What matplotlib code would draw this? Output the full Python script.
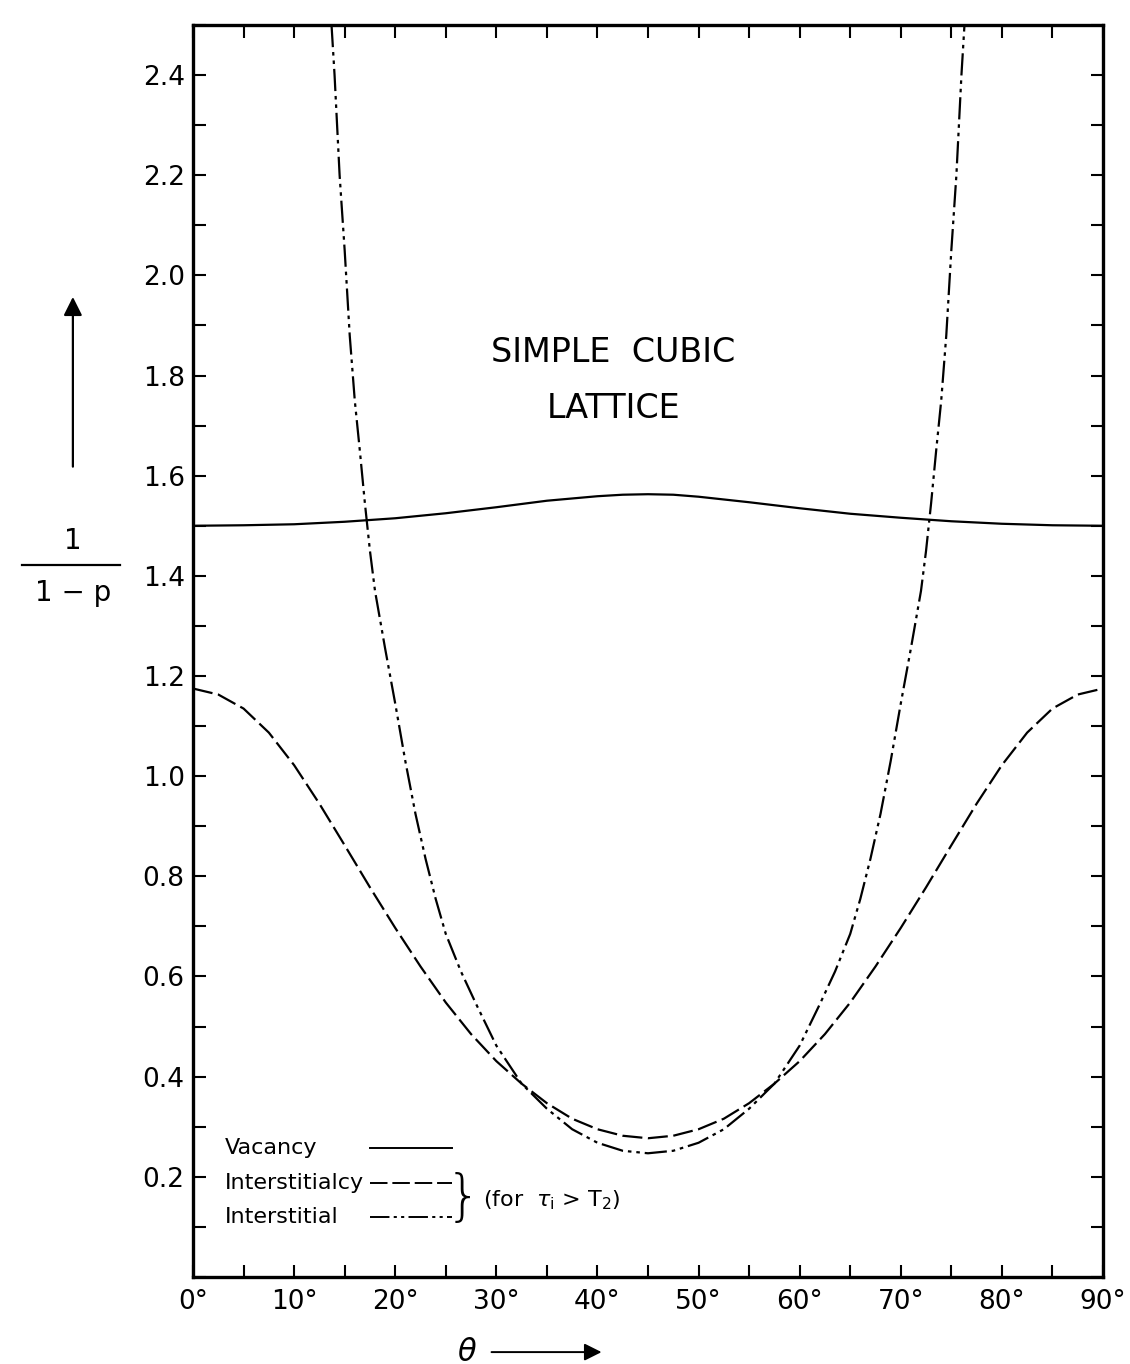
import numpy as np
import matplotlib
matplotlib.use("Agg")
import matplotlib.pyplot as plt
from matplotlib.ticker import MultipleLocator, FixedLocator

# ---------------------------------------------------------------------------
# Data (theta in degrees, value = 1/(1-p))
# ---------------------------------------------------------------------------
vac_theta = [0, 5, 10, 15, 20, 25, 30, 35, 40, 42.5, 45, 47.5, 50, 55, 60, 65, 70,
             75, 80, 85, 90]
vac_value = [1.500, 1.501, 1.503, 1.508, 1.515, 1.525, 1.537, 1.550, 1.559, 1.562,
             1.563, 1.562, 1.558, 1.547, 1.535, 1.524, 1.516, 1.509, 1.504, 1.501,
             1.500]

icy_theta = [0, 2.5, 5, 7.5, 10, 12.5, 15, 17.5, 20, 22.5, 25, 27.5, 30, 32.5, 35,
             37.5, 40, 42.5, 45, 47.5, 50, 52.5, 55, 57.5, 60, 62.5, 65, 67.5, 70,
             72.5, 75, 77.5, 80, 82.5, 85, 87.5, 90]
icy_value = [1.175, 1.163, 1.135, 1.087, 1.022, 0.945, 0.862, 0.778, 0.697, 0.62,
             0.548, 0.485, 0.431, 0.386, 0.347, 0.316, 0.295, 0.282, 0.277, 0.282,
             0.295, 0.316, 0.347, 0.386, 0.431, 0.485, 0.548, 0.62, 0.697, 0.778,
             0.862, 0.945, 1.022, 1.087, 1.135, 1.163, 1.175]

int_theta = [13.7, 14, 14.5, 15, 15.5, 16, 16.5, 17, 17.5, 18, 19, 20, 21, 22,
             23, 24, 25, 26.5, 28, 30, 32.5, 35, 37.5, 40, 42.5, 45, 47.5, 50,
             52.5, 55, 57.5, 60, 62, 63.5, 65, 66, 67, 68, 69, 70, 71, 72, 72.5,
             73, 73.5, 74, 74.5, 75, 75.5, 76, 76.3]
int_value = [2.50, 2.40, 2.20, 2.05, 1.88, 1.75, 1.65, 1.545, 1.45, 1.37, 1.255,
             1.145, 1.03, 0.925, 0.835, 0.755, 0.685, 0.61, 0.545, 0.462, 0.386,
             0.336, 0.295, 0.268, 0.252, 0.247, 0.252, 0.268, 0.295, 0.336, 0.386,
             0.462, 0.545, 0.61, 0.685, 0.755, 0.835, 0.925, 1.03, 1.145, 1.255,
             1.37, 1.45, 1.545, 1.65, 1.75, 1.88, 2.05, 2.20, 2.40, 2.50]

x_major = [0, 10, 20, 30, 40, 50, 60, 70, 80, 90]
x_ticklabels = ["0°", "10°", "20°", "30°", "40°", "50°", "60°", "70°", "80°", "90°"]
y_major = [0.2, 0.4, 0.6, 0.8, 1.0, 1.2, 1.4, 1.6, 1.8, 2.0, 2.2, 2.4]

LW = 1.6
ICY_DASH = (9, 2.5)
INT_DASH = (10, 2.2, 1.6, 2.2, 1.6, 2.2)

plt.rcParams["font.family"] = ["DejaVu Sans"]

fig = plt.figure(figsize=(11.3, 13.64), dpi=100)
ax = fig.add_axes([0.1708, 0.0638, 0.8053, 0.9179])

ax.plot(vac_theta, vac_value, color="black", lw=LW, solid_joinstyle="round")
ax.plot(icy_theta, icy_value, color="black", lw=LW, dashes=ICY_DASH,
        dash_joinstyle="round")
ax.plot(int_theta, int_value, color="black", lw=LW, dashes=INT_DASH,
        dash_joinstyle="round")

ax.set_xlim(0, 90)
ax.set_ylim(0, 2.5)

ax.xaxis.set_major_locator(FixedLocator(x_major))
ax.xaxis.set_minor_locator(MultipleLocator(5))
ax.set_xticklabels(x_ticklabels)
ax.yaxis.set_major_locator(FixedLocator(y_major))
ax.yaxis.set_minor_locator(MultipleLocator(0.1))
ax.set_yticklabels([f"{v:.1f}" for v in y_major])

for s in ax.spines.values():
    s.set_linewidth(2.4)
ax.tick_params(which="both", direction="in", top=True, right=True,
               length=9, width=1.5, labelsize=19)
ax.tick_params(axis="x", pad=9)
ax.tick_params(axis="y", pad=6)

# title inside the plot
ax.text(41.6, 1.845, "SIMPLE  CUBIC", ha="center", va="center", fontsize=24)
ax.text(41.6, 1.735, "LATTICE", ha="center", va="center", fontsize=24)

# y label: 1/(1-p) with upward arrow
ax.annotate("", xy=(-0.132, 0.785), xytext=(-0.132, 0.645),
            xycoords="axes fraction",
            arrowprops=dict(arrowstyle="-|>", lw=1.6, color="black",
                            mutation_scale=28))
ax.text(-0.132, 0.588, "1", transform=ax.transAxes, ha="center", va="center",
        fontsize=20)
ax.plot([-0.188, -0.08], [0.569, 0.569], transform=ax.transAxes,
        color="black", lw=1.6, clip_on=False)
ax.text(-0.132, 0.546, "1 − p", transform=ax.transAxes, ha="center",
        va="center", fontsize=20)

# x label: theta with arrow
ax.text(0.301, -0.06, r"$\theta$", transform=ax.transAxes, ha="center",
        va="center", fontsize=22)
ax.annotate("", xy=(0.452, -0.06), xytext=(0.325, -0.06),
            xycoords="axes fraction",
            arrowprops=dict(arrowstyle="-|>", lw=1.4, color="black",
                            mutation_scale=26))

# legend drawn by hand: label left, line sample right
legend_rows = [("Vacancy", None, 0.103),
               ("Interstitialcy", ICY_DASH, 0.075),
               ("Interstitial", INT_DASH, 0.048)]
for name, dash, yy in legend_rows:
    ax.text(0.035, yy, name, transform=ax.transAxes, ha="left", va="center",
            fontsize=16)
    kw = dict(dashes=dash) if dash else {}
    ax.plot([0.1945, 0.2846], [yy, yy], transform=ax.transAxes, color="black",
            lw=1.4, clip_on=False, **kw)

ax.text(0.297, 0.0625, "}", transform=ax.transAxes, ha="center", va="center",
        fontsize=40, fontweight="light")
ax.text(0.319, 0.0615, r"(for  $\tau_{\rm i}$ > T$_2$)", transform=ax.transAxes,
        ha="left", va="center", fontsize=16)

fig.savefig("out.png", dpi=100)
